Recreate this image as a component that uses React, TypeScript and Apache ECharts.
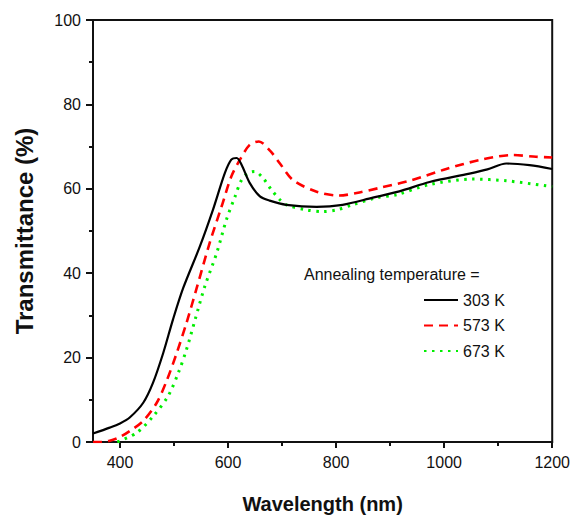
import React, { useEffect, useRef } from "react";
import * as echarts from "echarts";

const wl303 = [350, 381, 400, 418, 443, 461, 480, 498, 517, 548, 572, 594, 606, 616, 625, 640, 659, 677, 708, 764, 812, 868, 917, 973, 1047, 1080, 1115, 1158, 1200];
const t303 = [2.0, 3.4, 4.4, 5.8, 9.3, 14, 21.1, 29, 36.5, 46.4, 55, 63.7, 66.9, 67.3, 65.7, 61.4, 58.2, 57.2, 56.2, 55.7, 56.2, 57.9, 59.4, 61.6, 63.6, 64.6, 66, 65.6, 64.7];

const wl573 = [350, 365, 381, 400, 418, 443, 468, 486, 505, 523, 542, 566, 588, 606, 622, 640, 657, 678, 696, 720, 764, 806, 838, 880, 941, 1004, 1065, 1126, 1170, 1200];
const t573 = [0, 0, 0.3, 1.2, 2.6, 5, 9.3, 14.4, 21.1, 28.2, 36.5, 47.2, 55.8, 62.9, 66.9, 70.4, 71.2, 69, 66, 62.1, 59.3, 58.4, 59, 60.2, 62.1, 64.7, 66.8, 68, 67.6, 67.4];

const wl673 = [395, 431, 462, 489, 508, 523, 539, 557, 579, 597, 613, 625, 637, 649, 665, 680, 696, 708, 745, 775, 801, 830, 875, 912, 973, 1052, 1115, 1189, 1200];
const t673 = [0, 2.2, 6.2, 10.9, 16.4, 21.9, 29, 36.9, 44.8, 52.7, 58.2, 62.1, 63.7, 64.1, 62.5, 59.8, 57.4, 56.2, 55, 54.6, 55, 56.2, 57.9, 58.6, 61, 62.3, 61.9, 60.7, 60.5];

const seriesNames = ["303 K", "573 K", "673 K"];
const xMajorTicks = [400, 600, 800, 1000, 1200];
const xMinorTicks = [500, 700, 900, 1100];

const FONT = '"Liberation Sans", Arial, Helvetica, sans-serif';

const pairs = (xs: number[], ys: number[]) => xs.map((x, i) => [x, ys[i]]);

export default function App() {
  const ref = useRef<HTMLDivElement>(null);
  useEffect(() => {
    if (!ref.current) return;
    document.documentElement.style.overflow = "hidden";
    document.body.style.margin = "0";
    document.body.style.overflow = "hidden";
    const chart = echarts.init(ref.current, null, { renderer: "svg", width: 573, height: 519 });
    chart.setOption({
      animation: false,
      backgroundColor: "#ffffff",
      title: {
        text: "Annealing temperature =",
        left: 304,
        top: 266,
        padding: 0,
        textStyle: { fontFamily: FONT, fontSize: 16, fontWeight: "normal", color: "#111" },
      },
      legend: {
        orient: "vertical",
        left: 423,
        top: 292,
        padding: 0,
        itemWidth: 34,
        itemHeight: 14,
        itemGap: 9.5,
        data: seriesNames,
        itemStyle: { opacity: 0 },
        textStyle: { fontFamily: FONT, fontSize: 16, color: "#111" },
      },
      grid: {
        left: 93,
        right: 20,
        top: 20,
        bottom: 76,
        show: true,
        borderColor: "#111",
        borderWidth: 2,
        backgroundColor: "transparent",
      },
      xAxis: [
        {
          type: "value",
          min: 350,
          max: 1200,
          name: "Wavelength (nm)",
          nameLocation: "middle",
          nameGap: 52,
          nameTextStyle: { fontFamily: FONT, fontSize: 20, fontWeight: "bold", color: "#111" },
          axisLine: { show: true, lineStyle: { color: "#111", width: 2 } },
          axisTick: { show: true, inside: false, length: 6, lineStyle: { color: "#111", width: 2 }, customValues: xMajorTicks },
          axisLabel: { fontFamily: FONT, fontSize: 16, color: "#111", margin: 12, customValues: xMajorTicks, formatter: (v: number) => String(v) },
          splitLine: { show: false },
        },
        {
          type: "value",
          min: 350,
          max: 1200,
          position: "bottom",
          axisLine: { show: false },
          axisTick: { show: true, inside: false, length: 4, lineStyle: { color: "#111", width: 2 }, customValues: xMinorTicks },
          axisLabel: { show: false, customValues: xMinorTicks },
          splitLine: { show: false },
        },
      ],
      yAxis: {
        type: "value",
        min: 0,
        max: 100,
        interval: 20,
        name: "Transmittance (%)",
        nameLocation: "middle",
        nameGap: 57,
        nameTextStyle: { fontFamily: FONT, fontSize: 24, fontWeight: "bold", color: "#111" },
        axisLine: { show: true, lineStyle: { color: "#111", width: 2 } },
        axisTick: { show: true, inside: false, length: 7, lineStyle: { color: "#111", width: 2 } },
        minorTick: { show: true, splitNumber: 2, length: 4, lineStyle: { color: "#111", width: 2 } },
        axisLabel: { fontFamily: FONT, fontSize: 16, color: "#111", margin: 12 },
        splitLine: { show: false },
      },
      series: [
        {
          name: seriesNames[0],
          type: "line",
          smooth: 0.3,
          symbol: "none",
          data: pairs(wl303, t303),
          lineStyle: { color: "#000", width: 2.2, type: "solid" },
          itemStyle: { color: "#000" },
          z: 3,
        },
        {
          name: seriesNames[1],
          type: "line",
          smooth: 0.3,
          symbol: "none",
          data: pairs(wl573, t573),
          lineStyle: { color: "#ff0000", width: 2.6, type: [9, 6] },
          itemStyle: { color: "#ff0000" },
          z: 2,
        },
        {
          name: seriesNames[2],
          type: "line",
          smooth: 0.3,
          symbol: "none",
          data: pairs(wl673, t673),
          lineStyle: { color: "#00ee00", width: 3, type: [2.5, 5.5] },
          itemStyle: { color: "#00ee00" },
          z: 1,
        },
      ],
    });
    return () => chart.dispose();
  }, []);
  return <div ref={ref} style={{ width: 573, height: 519, position: "absolute", left: 0, top: 0 }} />;
}
